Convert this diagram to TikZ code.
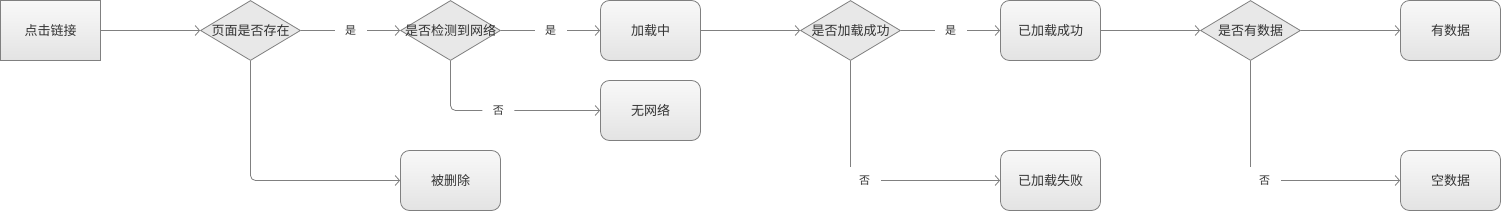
\documentclass[tikz,border=0pt]{standalone}
\usepackage{fontspec}
\setmainfont{Noto Sans CJK SC}
\usetikzlibrary{positioning, arrows.meta, shapes.geometric}
\definecolor{linegray}{HTML}{808080}
\definecolor{txtgray}{HTML}{333333}

\tikzset{
  base/.style={draw=linegray, line width=0.8pt, minimum width=100pt, minimum height=60pt,
    inner sep=0pt, text=txtgray, font=\fontsize{13}{13}\selectfont},
  start/.style={base, rectangle, top color=gray!5, bottom color=gray!22},
  proc/.style={base, rectangle, rounded corners=9pt, top color=gray!5, bottom color=gray!22},
  decision/.style={base, diamond, fill=gray!18, label={[text=txtgray, font=\fontsize{13}{13}\selectfont]center:#1}},
  flow/.style={draw=linegray, line width=0.8pt, -{Straight Barb[length=4.5pt, width=10pt]}},
  lbl/.style={fill=white, text=txtgray, font=\fontsize{11}{11}\selectfont, inner sep=0pt,
    minimum width=32pt, minimum height=28pt}
}

\begin{document}
\begin{tikzpicture}[x=1pt, y=-1pt]
\useasboundingbox (0,0) rectangle (1501,211);

% first column
\node[start] (click) at (50.5,30.5) {点击链接};
\node[decision=页面是否存在] (exist) at (250.5,30.5) {};

% network check
\node[decision=是否检测到网络] (net) at (450.5,30.5) {};
\node[proc] (deleted) at (450.5,180.5) {被删除};
\node[proc] (loading) at (650.5,30.5) {加载中};
\node[proc] (nonet) at (650.5,110.5) {无网络};

% loading result
\node[decision=是否加载成功] (loaded) at (850.5,30.5) {};
\node[proc] (success) at (1050.5,30.5) {已加载成功};
\node[proc] (fail) at (1050.5,180.5) {已加载失败};

% data check
\node[decision=是否有数据] (data) at (1250.5,30.5) {};
\node[proc] (hasdata) at (1450.5,30.5) {有数据};
\node[proc] (nodata) at (1450.5,180.5) {空数据};

% connectors
\draw[flow] (click.east) -- (exist.west);
\draw[flow] (exist.east) -- node[lbl] {是} (net.west);
\draw[flow, rounded corners=5pt] (exist.south) |- (deleted.west);
\draw[flow] (net.east) -- node[lbl] {是} (loading.west);
\draw[flow, rounded corners=5pt] (net.south) |- node[lbl, pos=0.66] {否} (nonet.west);
\draw[flow] (loading.east) -- (loaded.west);
\draw[flow] (loaded.east) -- node[lbl] {是} (success.west);
\draw[flow] (loaded.south) |- node[lbl, pos=0.547] {否} (fail.west);
\draw[flow] (success.east) -- (data.west);
\draw[flow] (data.east) -- (hasdata.west);
\draw[flow] (data.south) |- node[lbl, pos=0.547] {否} (nodata.west);
\end{tikzpicture}
\end{document}
